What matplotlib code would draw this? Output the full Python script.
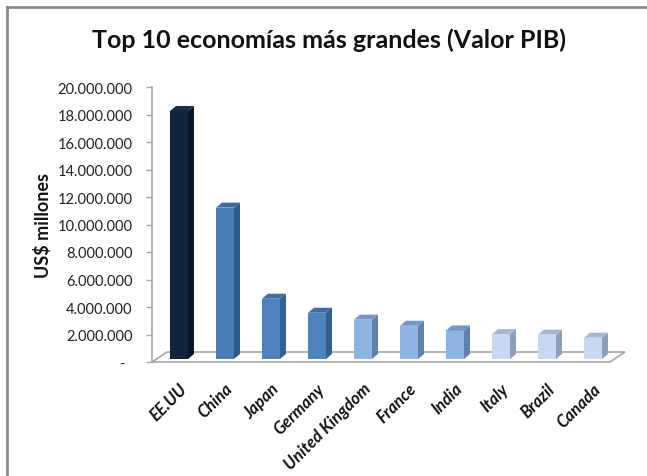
import numpy as np
import matplotlib
matplotlib.use("Agg")
import matplotlib.pyplot as plt
from matplotlib.patches import Polygon, Rectangle
from matplotlib.lines import Line2D

countries = ["EE.UU", "China", "Japan", "Germany", "United Kingdom",
             "France", "India", "Italy", "Brazil", "Canada"]
gdp = [18036648, 11007721, 4383076, 3363600, 2861091,
       2418836, 2073543, 1814763, 1774725, 1550537]
yticks = [0, 2e6, 4e6, 6e6, 8e6, 10e6, 12e6, 14e6, 16e6, 18e6, 20e6]
ytick_labels = ["-  "] + ["{:,}".format(int(v)).replace(",", ".") for v in yticks[1:]]

# front / side / top colours per bar
front = ["#10233f", "#4a7ebb", "#4f81bd", "#4f81bd", "#8db3e2",
         "#8db3e2", "#8db3e2", "#c6d9f1", "#c6d9f1", "#c6d9f1"]
side = ["#0a172b", "#2f5a8c", "#335f92", "#335f92", "#5f81ab",
        "#5f81ab", "#5f81ab", "#8c9fb8", "#8c9fb8", "#8c9fb8"]
top = ["#172c4c", "#3a6aa5", "#3d6ca7", "#3d6ca7", "#7097c7",
       "#7097c7", "#7097c7", "#a6b8d0", "#a6b8d0", "#a6b8d0"]

W, H = 647, 477
fig = plt.figure(figsize=(W / 100, H / 100), dpi=100)
plt.rcParams['font.family'] = ['Lato', 'DejaVu Sans']

# slide frame
fig.add_artist(Line2D([7 / W, 7 / W], [0, 1 - 8 / H], color="#8c8c8c", lw=2))
fig.add_artist(Line2D([7 / W, 1], [1 - 8 / H, 1 - 8 / H], color="#8c8c8c", lw=2))

ax = fig.add_axes([152 / W, 1 - 363 / H, (610 - 152) / W, (363 - 88) / H])
ax.set_xlim(-0.489, 9.467)
ax.set_ylim(0, 20e6)
ax.patch.set_alpha(0)

px_x = (610 - 152) / (9.467 + 0.489)   # pixels per x unit
px_y = (363 - 88) / 20e6               # pixels per y unit

def dpx(dx, dy):
    return dx / px_x, dy / px_y

# floor
fdx, fdy = dpx(15, 10)
x0, x1 = ax.get_xlim()
floor = Polygon([(x0, 0), (x1, 0), (x1 + fdx, fdy), (x0 + fdx, fdy)],
                closed=True, facecolor="white", edgecolor="#a6a6a6", lw=1.2,
                clip_on=False, zorder=1)
ax.add_patch(floor)

# bars
bw = 18 / px_x
bdx, bdy = dpx(4.5, 3)
ddx, ddy = dpx(6, 5)
for i, v in enumerate(gdp):
    xl = i + bdx - bw / 2
    xr = i + bdx + bw / 2
    yb = bdy
    yt = bdy + v
    ax.add_patch(Rectangle((xl, yb), bw, v, facecolor=front[i], edgecolor="none", zorder=3))
    ax.add_patch(Polygon([(xr, yb), (xr + ddx, yb + ddy), (xr + ddx, yt + ddy), (xr, yt)],
                         closed=True, facecolor=side[i], edgecolor="none", zorder=3))
    ax.add_patch(Polygon([(xl, yt), (xr, yt), (xr + ddx, yt + ddy), (xl + ddx, yt + ddy)],
                         closed=True, facecolor=top[i], edgecolor="none", zorder=3))

for s in ["top", "right", "bottom"]:
    ax.spines[s].set_visible(False)
ax.spines["left"].set_color("#a6a6a6")
ax.spines["left"].set_linewidth(1.2)
ax.set_yticks(yticks)
ax.set_yticklabels(ytick_labels, fontsize=10.5, color="#222222")
ax.tick_params(axis="y", length=4, width=1, color="#a6a6a6", pad=10)
ax.set_xticks([])

for i, name in enumerate(countries):
    ax.annotate(name, (i, 0), xytext=(4, -18), textcoords="offset pixels",
                rotation=45, ha="right", va="top", rotation_mode="anchor",
                fontsize=12, fontweight="bold", fontstyle="italic", color="#111111",
                annotation_clip=False)

fig.text(43 / W, 1 - 226 / H, "US$ millones", rotation=90, ha="center", va="center",
         fontsize=13, fontweight="bold", color="#111111")
fig.text(329 / W, 1 - 40 / H, "Top 10 economías más grandes (Valor PIB)",
         ha="center", va="center", fontsize=18, fontweight="bold", color="#111111")

fig.savefig("out.png", dpi=100)
